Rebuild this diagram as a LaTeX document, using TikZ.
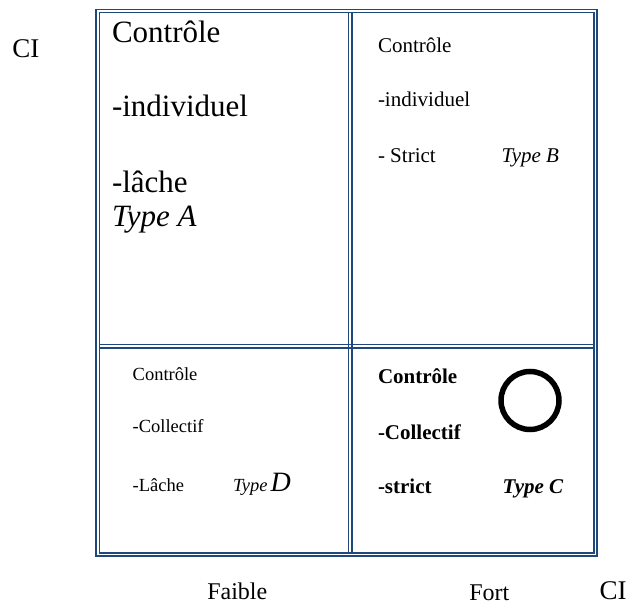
\documentclass[tikz,border=0pt]{standalone}
\usepackage{fontspec}
\setmainfont{Liberation Serif}
\definecolor{gridblue}{RGB}{31,73,125}
\begin{document}
\begin{tikzpicture}[x=1pt,y=-1pt,
  frame/.style={draw=gridblue,line width=1.3pt},
  lbl/.style={anchor=base west,inner sep=0pt,outer sep=0pt},
  big/.style={lbl,font=\fontsize{31}{37}\selectfont},
  mid/.style={lbl,font=\fontsize{21}{25}\selectfont},
  small/.style={lbl,font=\fontsize{18.5}{22}\selectfont},
  axis/.style={lbl,font=\fontsize{24}{28}\selectfont},
  ci/.style={lbl,font=\fontsize{27}{32}\selectfont}]
\useasboundingbox (0,0) rectangle (630,604);

% double-ruled table frame
\draw[frame] (96,9.5) rectangle (597,556);
\draw[frame] (99.5,12.5) rectangle (594,553);
\draw[frame] (348.5,12.5) -- (348.5,553);
\draw[frame] (352,12.5) -- (352,553);
\draw[frame] (99.5,344.5) -- (594,344.5);
\draw[frame] (99.5,348) -- (594,348);

% axis labels
\node[ci] (ciy) at (12.3,58) {CI};
\node[ci] (cix) at (599.5,599.5) {CI};
\node[axis] (faible) at (207.3,599.5) {Faible};
\node[axis] (fort) at (469.3,600) {Fort};

% type A
\node[big] (a1) at (112,43) {Contrôle};
\node[big] (a2) at (112,117) {-individuel};
\node[big] (a3) at (112,193) {-lâche};
\node[big,font=\fontsize{31}{37}\selectfont\itshape] (a4) at (112,227) {Type A};

% type B
\node[mid] (b1) at (378,52.3) {Contrôle};
\node[mid] (b2) at (378,106.7) {-individuel};
\node[mid] (b3) at (378,162.7) {- Strict};
\node[mid,font=\fontsize{21}{25}\selectfont\itshape] (b4) at (501.7,162.7) {Type B};

% type D
\node[small] (d1) at (132.7,381) {Contrôle};
\node[small] (d2) at (132.7,432) {-Collectif};
\node[small] (d3) at (132.7,491) {-Lâche};
\node[small,font=\fontsize{18.5}{22}\selectfont\itshape] (d4) at (233,491)
  {Type\,{\fontsize{28}{32}\selectfont D}};

% type C
\node[mid,font=\fontsize{21}{25}\selectfont\bfseries] (c1) at (378,384) {Contrôle};
\node[mid,font=\fontsize{21}{25}\selectfont\bfseries] (c2) at (378,439) {-Collectif};
\node[mid,font=\fontsize{21}{25}\selectfont\bfseries] (c3) at (378,493.3) {-strict};
\node[mid,font=\fontsize{21}{25}\selectfont\bfseries\itshape] (c4) at (502.7,493.3) {Type C};
\node[circle,draw,line width=5.5pt,minimum size=58pt,inner sep=0pt] (ring) at (530,400.5) {};
\end{tikzpicture}
\end{document}
